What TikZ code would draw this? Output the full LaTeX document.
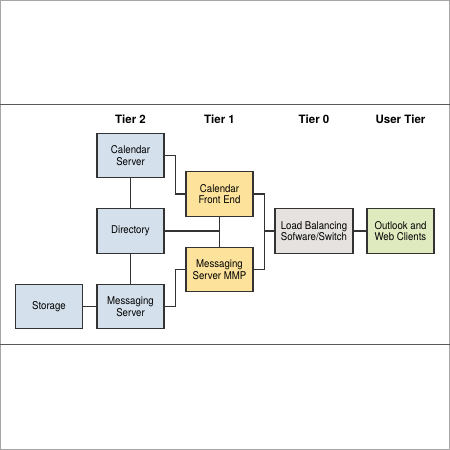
\documentclass[tikz,border=0pt]{standalone}
\usepackage{fontspec}
\setmainfont{TeX Gyre Heros}
\newfontfamily\boxfont[FakeStretch=0.9]{TeX Gyre Heros}
\usetikzlibrary{positioning}

\definecolor{tierblue}{HTML}{D4E0EC}
\definecolor{tieryellow}{HTML}{FCE29A}
\definecolor{tiergray}{HTML}{E5E2DF}
\definecolor{tiergreen}{HTML}{E0EABF}
\definecolor{edgegray}{HTML}{333333}

\tikzset{
  box/.style={draw=edgegray, line width=1.1pt, minimum width=67pt, minimum height=44.5pt,
    inner sep=0pt, align=center, font=\boxfont\fontsize{10.7}{11.5}\selectfont},
  wire/.style={draw=edgegray, line width=1.1pt},
  tier/.style={font=\fontsize{11.5}{13}\selectfont\bfseries}
}

\begin{document}
\begin{tikzpicture}[x=1pt, y=-1pt]

\def\yt{119.5}; % tier labels
\def\ya{155.5}; % calendar server
\def\yb{194}; % front end
\def\yc{231}; % middle row
\def\yd{269.5}; % mmp
\def\ye{306.5}; % bottom row

\def\xs{49};
\def\xa{130.5};
\def\xb{219.5};
\def\xc{314};
\def\xd{400.5};

% frame
\useasboundingbox (0,0) rectangle (450,450);
\draw[gray!70, line width=1pt] (0.5,0.5) rectangle (449.5,449.5);
\draw[gray!70!black, line width=1pt] (0,104.5) -- (450,104.5);
\draw[gray!70!black, line width=1pt] (0,344.5) -- (450,344.5);

% tiers
\node[tier] (t2) at (\xa, \yt) {Tier 2};
\node[tier] (t1) at (\xb, \yt) {Tier 1};
\node[tier] (t0) at (\xc, \yt) {Tier 0};
\node[tier] (tu) at (\xd, \yt) {User Tier};

% tier 2
\node[box, fill=tierblue] (cs) at (\xa, \ya) {Calendar\\Server};
\node[box, fill=tierblue] (dir) at (\xa, \yc) {Directory};
\node[box, fill=tierblue] (ms) at (\xa, \ye) {Messaging\\Server};
\node[box, fill=tierblue] (st) at (\xs, \ye) {Storage};

% tier 1
\node[box, fill=tieryellow] (cfe) at (\xb, \yb) {Calendar\\Front End};
\node[box, fill=tieryellow] (mmp) at (\xb, \yd) {Messaging\\Server MMP};

% tier 0 and clients
\node[box, fill=tiergray, minimum width=78pt] (lb) at (\xc, \yc) {Load Balancing\\Sofware/Switch};
\node[box, fill=tiergreen] (oc) at (\xd, \yc) {Outlook and\\Web Clients};

\coordinate (j) at ([xshift=11pt]cfe.east);

\draw[wire] (cs) -- (dir);
\draw[wire] (dir) -- (ms);
\draw[wire] (st) -- (ms);
\draw[wire] (cs.east) -- ++(11,0) |- (cfe.west);
\draw[wire] (ms.east) -- ++(11,0) |- (mmp.west);
\draw[wire] (cfe) -- (mmp);
\draw[wire] (dir.east) -- (dir.east -| cfe.south);
\draw[wire] (cfe.east) -- (j) |- (mmp.east);
\draw[wire] (lb.west) -- (lb.west -| j);
\draw[wire] (lb) -- (oc);

\end{tikzpicture}
\end{document}
